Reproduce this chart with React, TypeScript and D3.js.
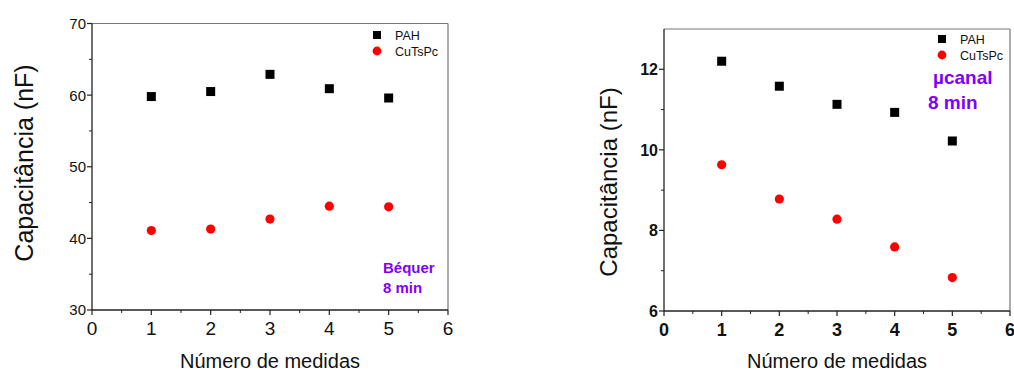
import React from "react";
import * as d3 from "d3";

const measures = [1, 2, 3, 4, 5];
const leftPAH = [59.8, 60.5, 62.9, 60.9, 59.6];
const leftCu = [41.1, 41.3, 42.7, 44.5, 44.4];
const rightPAH = [12.2, 11.58, 11.13, 10.93, 10.22];
const rightCu = [9.63, 8.78, 8.28, 7.59, 6.83];
const xTicks = [0, 1, 2, 3, 4, 5, 6];
const leftYTicks = [30, 40, 50, 60, 70];
const rightYTicks = [6, 8, 10, 12];
const seriesNames = ["PAH", "CuTsPc"];

const FONT = "'Liberation Sans', Arial, Helvetica, sans-serif";
const PURPLE = "#8000ff";

type PanelProps = {
  x0: number; x1: number; y0: number; y1: number;
  yDomain: [number, number];
  yTicks: number[]; yMinor: number[];
  pah: number[]; cu: number[];
  bold: boolean;
  yFont: number; xFont: number;
  titleFont: number;
  yTitleX: number; yTitleY: number;
  xTitleY: number;
  legendX: number; legendY: number;
  note: string[]; noteX: number; noteY: number; noteFont: number; noteDx?: number[];
};

function Panel(p: PanelProps) {
  const xs = d3.scaleLinear().domain([0, 6]).range([p.x0, p.x1]);
  const ys = d3.scaleLinear().domain(p.yDomain).range([p.y1, p.y0]);
  const xMinor = d3.range(0.5, 6, 1);
  const fw = p.bold ? "bold" : "normal";
  return (
    <g fontFamily={FONT}>
      <line x1={p.x0} x2={p.x1} y1={p.y0} y2={p.y0} stroke="#777" strokeWidth={1.2} />
      <line x1={p.x1} x2={p.x1} y1={p.y0} y2={p.y1} stroke="#777" strokeWidth={1.2} />
      <line x1={p.x0} x2={p.x0} y1={p.y0} y2={p.y1} stroke="#222" strokeWidth={1.3} />
      <line x1={p.x0} x2={p.x1} y1={p.y1} y2={p.y1} stroke="#222" strokeWidth={1.3} />
      {p.yTicks.map((t) => (
        <g key={"yt" + t}>
          <line x1={p.x0 - 5} x2={p.x0} y1={ys(t)} y2={ys(t)} stroke="#222" strokeWidth={1.2} />
          <text x={p.x0 - 6} y={ys(t)} dy="0.36em" textAnchor="end" fontSize={p.yFont} fontWeight={fw} fill="#111">{t}</text>
        </g>
      ))}
      {p.yMinor.map((t) => (
        <line key={"ym" + t} x1={p.x0 - 3} x2={p.x0} y1={ys(t)} y2={ys(t)} stroke="#222" strokeWidth={1} />
      ))}
      {xTicks.map((t) => (
        <g key={"xt" + t}>
          <line x1={xs(t)} x2={xs(t)} y1={p.y1} y2={p.y1 + 5} stroke="#222" strokeWidth={1.2} />
          <text x={xs(t)} y={p.y1 + 25} textAnchor="middle" fontSize={p.xFont} fontWeight={fw} fill="#111">{t}</text>
        </g>
      ))}
      {xMinor.map((t) => (
        <line key={"xm" + t} x1={xs(t)} x2={xs(t)} y1={p.y1} y2={p.y1 + 3} stroke="#222" strokeWidth={1} />
      ))}
      {measures.map((m, i) => (
        <rect key={"p" + m} x={xs(m) - 4.5} y={ys(p.pah[i]) - 4.5} width={9} height={9} fill="#000" />
      ))}
      {measures.map((m, i) => (
        <circle key={"c" + m} cx={xs(m)} cy={ys(p.cu[i])} r={4.6} fill="#ff0000" />
      ))}
      <rect x={p.legendX - 4} y={p.legendY - 4} width={8} height={8} fill="#000" />
      <text x={p.legendX + 18} y={p.legendY} dy="0.36em" fontSize={12.5} fill="#111">{seriesNames[0]}</text>
      <circle cx={p.legendX} cy={p.legendY + 16} r={4.4} fill="#ff0000" />
      <text x={p.legendX + 18} y={p.legendY + 16} dy="0.36em" fontSize={12.5} fill="#111">{seriesNames[1]}</text>
      {p.note.map((s, i) => (
        <text key={"n" + i} x={p.noteX + (p.noteDx ? p.noteDx[i] : 0)} y={p.noteY + i * (p.noteFont * 1.3)} fontSize={p.noteFont} fontWeight="bold" fill={PURPLE}>{s}</text>
      ))}
      <text transform={`translate(${p.yTitleX},${p.yTitleY}) rotate(-90)`} textAnchor="middle" fontSize={p.titleFont} fill="#111">Capacitância (nF)</text>
      <text x={(p.x0 + p.x1) / 2} y={p.xTitleY} textAnchor="middle" fontSize={20} fill="#111">Número de medidas</text>
    </g>
  );
}

export default function App() {
  return (
    <svg width={1014} height={373} style={{ position: "absolute", left: 0, top: 0, background: "#fff" }}>
      <Panel
        x0={92} x1={448} y0={23.5} y1={310}
        yDomain={[30, 70]} yTicks={leftYTicks} yMinor={[35, 45, 55, 65]}
        pah={leftPAH} cu={leftCu} bold={false}
        yFont={15} xFont={19} titleFont={25}
        yTitleX={33} yTitleY={163} xTitleY={368}
        legendX={377} legendY={35}
        note={["Béquer", "8 min"]} noteX={383} noteY={273} noteFont={15}
      />
      <Panel
        x0={664} x1={1010} y0={29} y1={311}
        yDomain={[6, 13]} yTicks={rightYTicks} yMinor={[7, 9, 11]}
        pah={rightPAH} cu={rightCu} bold={true}
        yFont={16} xFont={18} titleFont={24}
        yTitleX={617} yTitleY={182} xTitleY={368}
        legendX={942} legendY={39}
        note={["µcanal", "8 min"]} noteX={933} noteY={84} noteFont={19} noteDx={[0, -5]}
      />
    </svg>
  );
}
